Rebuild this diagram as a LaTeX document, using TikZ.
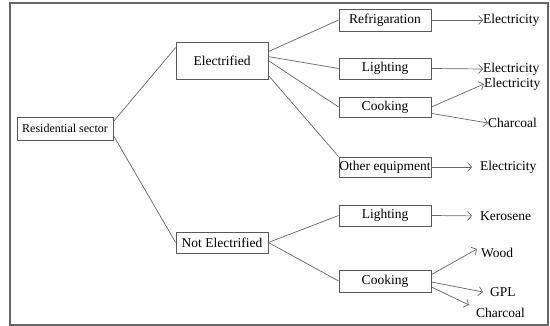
\documentclass[tikz,border=0pt]{standalone}
\usepackage{fontspec}
\setmainfont{Liberation Serif}
\usetikzlibrary{arrows.meta}
\begin{document}
\begin{tikzpicture}[x=1pt,y=-1pt,
  box/.style={draw=black!65,line width=0.8pt,inner sep=0pt,minimum width=92pt,font=\fontsize{13.5}{15}\selectfont},
  lbl/.style={inner sep=0pt,anchor=west,font=\fontsize{13.5}{15}\selectfont},
  conn/.style={draw=black!60,line width=0.7pt},
  arr/.style={conn,-{Straight Barb[length=4pt,width=9pt]}}]
\useasboundingbox (0,0) rectangle (550,326);
\draw[black!60,line width=1.2pt] (10,3) rectangle (548,325);
% nodes
\node[box,minimum width=96pt,minimum height=23pt,font=\fontsize{12}{14}\selectfont] (res) at (65,128.5) {Residential sector};
\node[box,minimum height=37pt] (elec) at (222,60.5) {Electrified};
\node[box,minimum height=21pt] (nelec) at (222,242.5) {Not Electrified};
\node[box,minimum height=22pt] (refr) at (385,20) {Refrigaration};
\node[box,minimum height=21pt] (lig1) at (385,68.5) {Lighting};
\node[box,minimum height=20pt] (cook1) at (385,107) {Cooking};
\node[box,minimum height=20pt] (other) at (385,167) {Other equipment};
\node[box,minimum height=21pt] (lig2) at (385,215.5) {Lighting};
\node[box,minimum height=22pt] (cook2) at (385,281) {Cooking};
% labels
\node[lbl] (t1) at (483,20) {Electricity};
\node[lbl] (t2) at (483,69) {Electricity};
\node[lbl] (t3) at (484,84) {Electricity};
\node[lbl] (t4) at (488,123) {Charcoal};
\node[lbl] (t5) at (480,167) {Electricity};
\node[lbl] (t6) at (480,216) {Kerosene};
\node[lbl] (t7) at (481,253) {Wood};
\node[lbl] (t8) at (490,292) {GPL};
\node[lbl] (t9) at (476,313) {Charcoal};
% connectors
\draw[conn] ([yshift=-5pt]res.north east) -- ([yshift=-6pt]elec.north west);
\draw[conn] ([yshift=5pt]res.south east) -- (nelec.west);
\draw[conn] ([yshift=-10pt]elec.north east) -- (refr.west);
\draw[conn] ([yshift=-15pt]elec.north east) -- (lig1.west);
\draw[conn] ([yshift=-19pt]elec.north east) -- (cook1.west);
\draw[conn] ([yshift=4pt]elec.south east) -- (other.north west);
\draw[conn] (nelec.east) -- (lig2.west);
\draw[conn] (nelec.east) -- (cook2.west);
% arrows
\draw[arr] (refr.east) -- (t1.west);
\draw[arr] (lig1.east) -- (t2.west);
\draw[arr] (cook1.east) -- (t3.west);
\draw[arr] ([yshift=4pt]cook1.south east) -- (t4.west);
\draw[arr,shorten >=8pt] (other.east) -- (t5.west);
\draw[arr,shorten >=8pt] (lig2.east) -- (t6.west);
\draw[arr] ([yshift=-5pt]cook2.north east) -- ([shift={(-4pt,4pt)}]t7.west);
\draw[arr] ([yshift=-1pt]cook2.east) -- ([xshift=-7pt]t8.west);
\draw[arr] ([yshift=-6pt]cook2.east) -- ([shift={(-7pt,8pt)}]t9.west);
\end{tikzpicture}
\end{document}
